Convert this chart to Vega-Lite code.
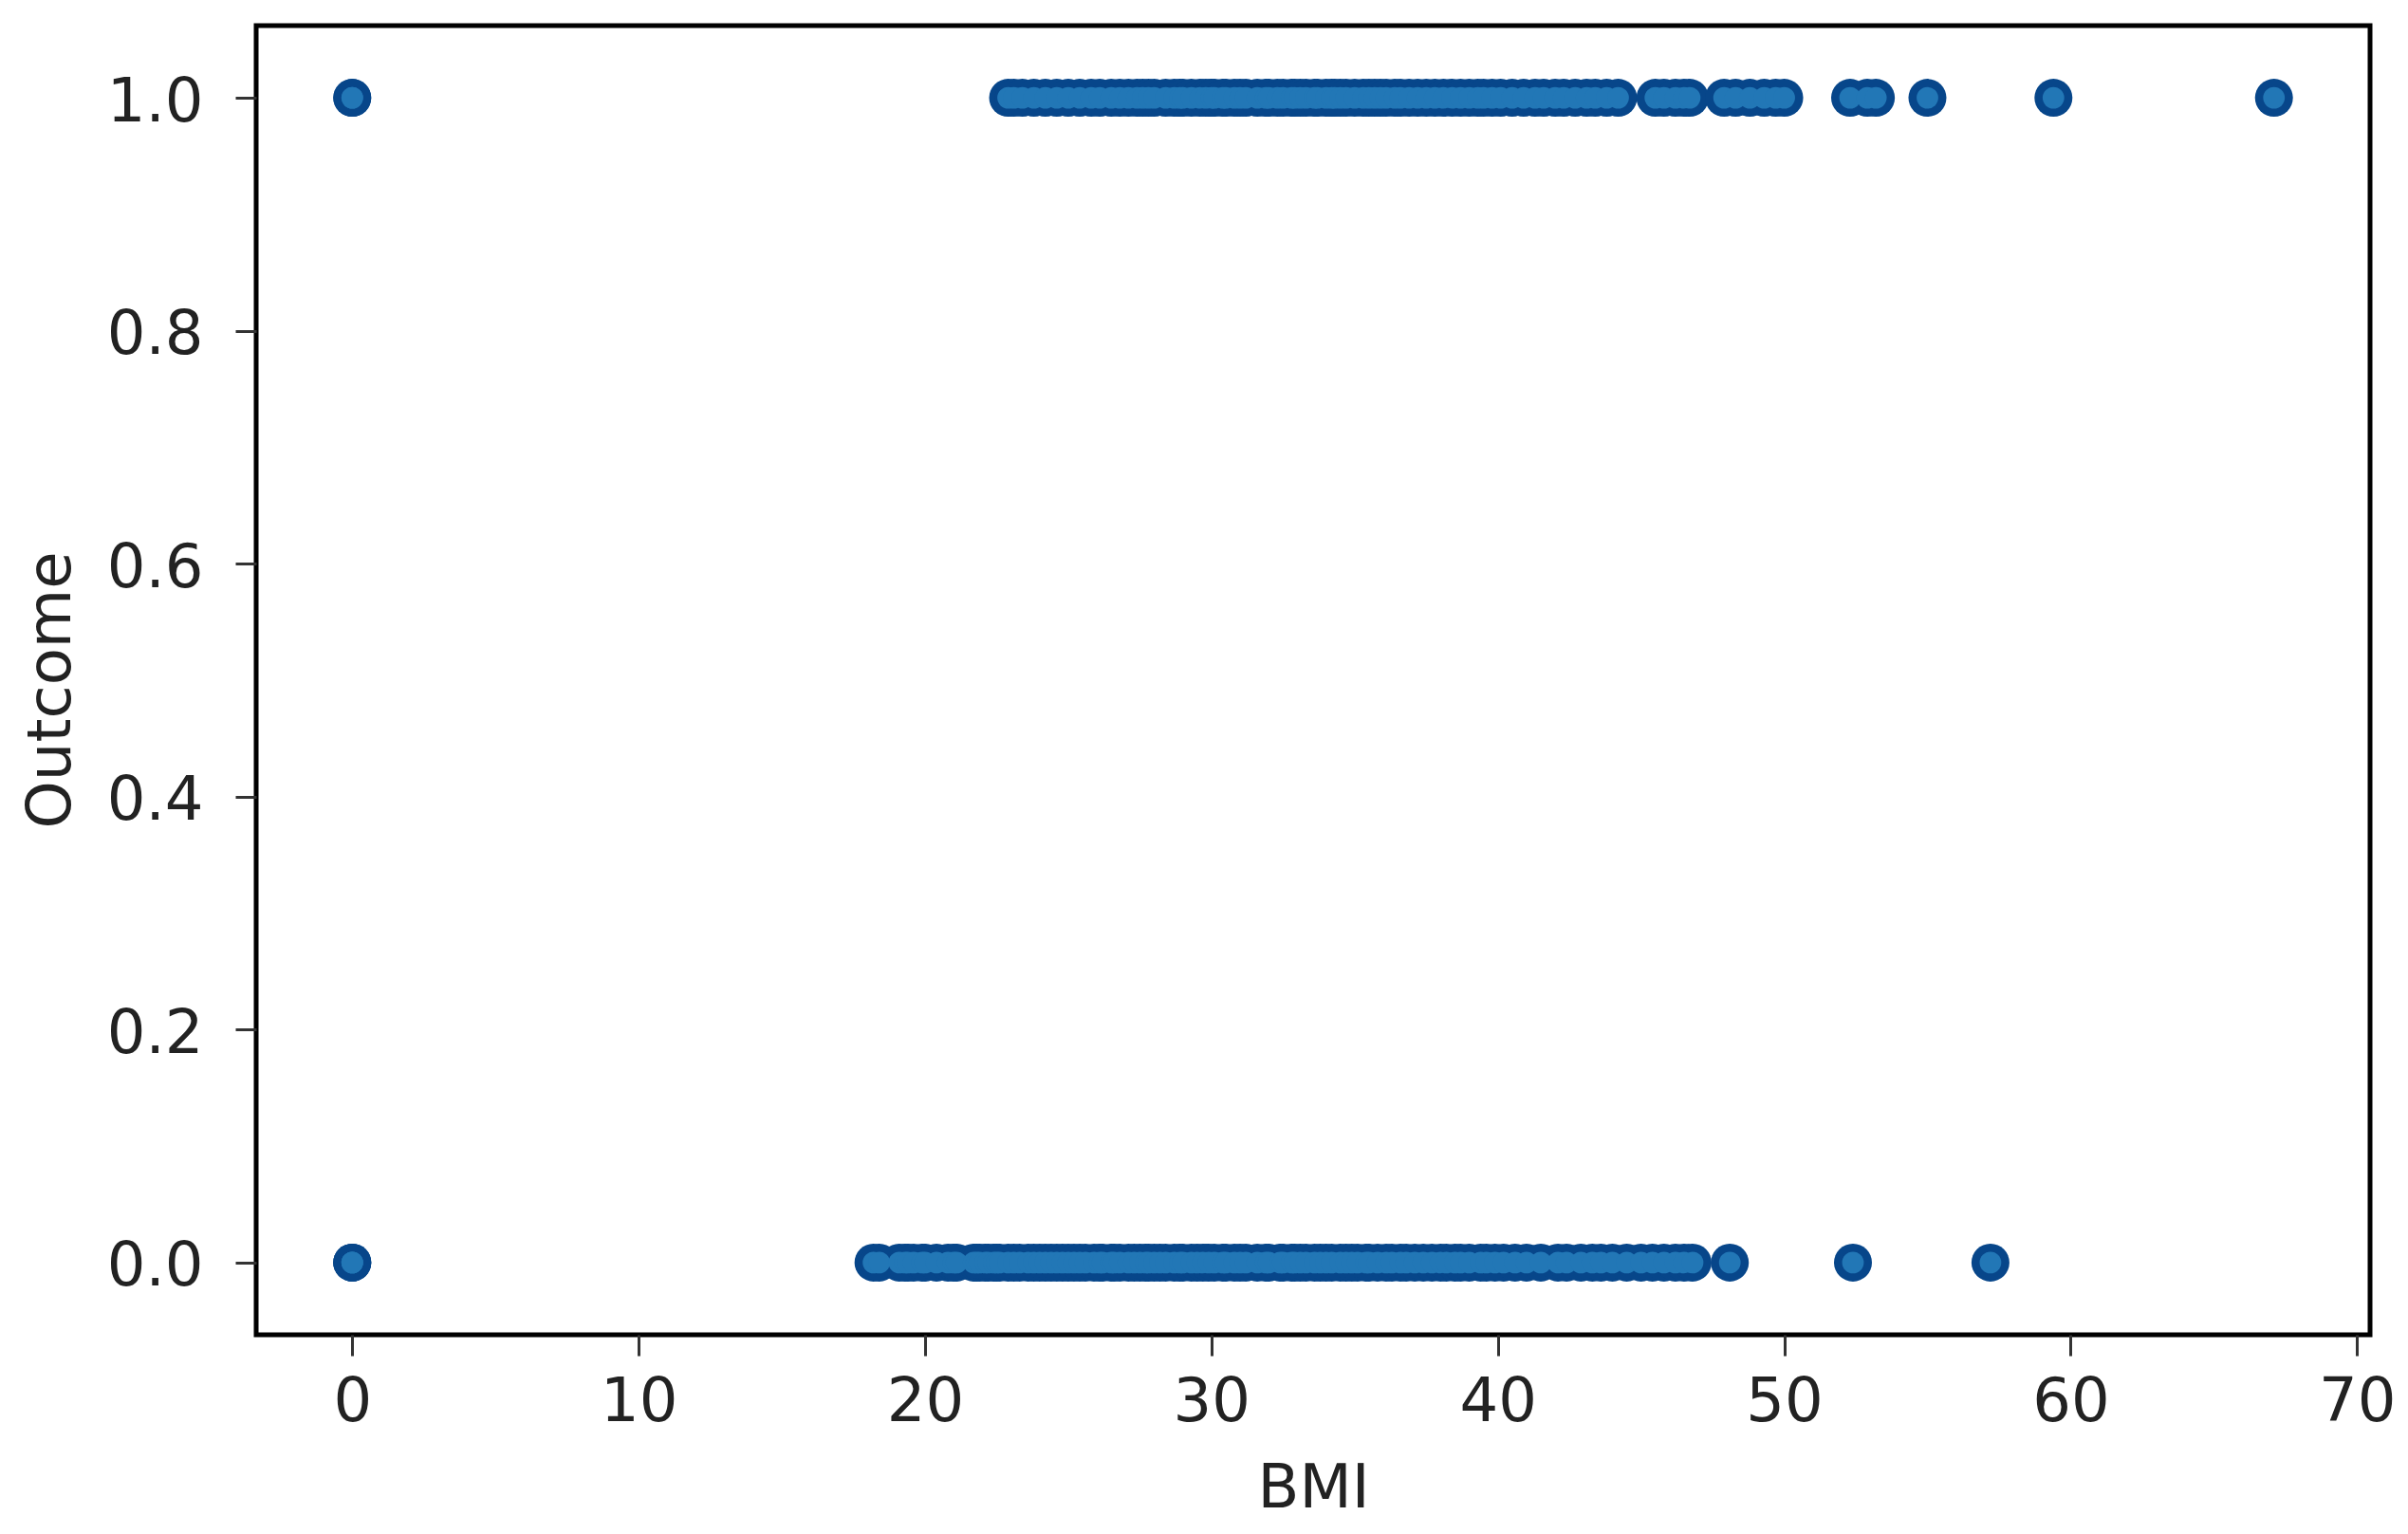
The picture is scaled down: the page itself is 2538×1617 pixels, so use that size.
{
  "$schema": "https://vega.github.io/schema/vega-lite/v6.json",
  "autosize": "none",
  "width": 2228,
  "height": 1380,
  "padding": {"left": 270, "top": 27, "right": 40, "bottom": 210},
  "background": "white",
  "config": {
    "font": "DejaVu Sans",
    "view": {"stroke": "#000000", "strokeWidth": 5},
    "axis": {
      "domain": false,
      "grid": false,
      "tickSize": 22,
      "tickWidth": 3,
      "tickColor": "#333333",
      "labelFontSize": 64,
      "labelColor": "#222222",
      "labelFlush": false,
      "labelOverlap": false,
      "titleFontSize": 64,
      "titleFontWeight": "normal",
      "titleColor": "#222222"
    }
  },
  "datasets": {
    "pima": [
      {"BMI": 0.0, "Outcome": 0}, {"BMI": 0.0, "Outcome": 0}, {"BMI": 0.0, "Outcome": 0},
      {"BMI": 18.2, "Outcome": 0}, {"BMI": 18.4, "Outcome": 0}, {"BMI": 19.1, "Outcome": 0}, {"BMI": 19.3, "Outcome": 0},
      {"BMI": 19.4, "Outcome": 0}, {"BMI": 19.6, "Outcome": 0}, {"BMI": 19.9, "Outcome": 0}, {"BMI": 20.0, "Outcome": 0},
      {"BMI": 20.4, "Outcome": 0}, {"BMI": 20.8, "Outcome": 0}, {"BMI": 21.0, "Outcome": 0}, {"BMI": 21.1, "Outcome": 0},
      {"BMI": 21.7, "Outcome": 0}, {"BMI": 21.8, "Outcome": 0}, {"BMI": 21.9, "Outcome": 0}, {"BMI": 22.1, "Outcome": 0},
      {"BMI": 22.2, "Outcome": 0}, {"BMI": 22.4, "Outcome": 0}, {"BMI": 22.5, "Outcome": 0}, {"BMI": 22.6, "Outcome": 0},
      {"BMI": 22.9, "Outcome": 0}, {"BMI": 23.1, "Outcome": 0}, {"BMI": 23.3, "Outcome": 0}, {"BMI": 23.6, "Outcome": 0},
      {"BMI": 23.8, "Outcome": 0}, {"BMI": 24.0, "Outcome": 0}, {"BMI": 24.2, "Outcome": 0}, {"BMI": 24.4, "Outcome": 0},
      {"BMI": 24.6, "Outcome": 0}, {"BMI": 24.8, "Outcome": 0}, {"BMI": 25.0, "Outcome": 0}, {"BMI": 25.2, "Outcome": 0},
      {"BMI": 25.4, "Outcome": 0}, {"BMI": 25.6, "Outcome": 0}, {"BMI": 25.9, "Outcome": 0}, {"BMI": 26.1, "Outcome": 0},
      {"BMI": 26.2, "Outcome": 0}, {"BMI": 26.5, "Outcome": 0}, {"BMI": 26.6, "Outcome": 0}, {"BMI": 26.8, "Outcome": 0},
      {"BMI": 27.1, "Outcome": 0}, {"BMI": 27.3, "Outcome": 0}, {"BMI": 27.5, "Outcome": 0}, {"BMI": 27.7, "Outcome": 0},
      {"BMI": 27.8, "Outcome": 0}, {"BMI": 28.0, "Outcome": 0}, {"BMI": 28.2, "Outcome": 0}, {"BMI": 28.4, "Outcome": 0},
      {"BMI": 28.7, "Outcome": 0}, {"BMI": 28.9, "Outcome": 0}, {"BMI": 29.0, "Outcome": 0}, {"BMI": 29.3, "Outcome": 0},
      {"BMI": 29.5, "Outcome": 0}, {"BMI": 29.7, "Outcome": 0}, {"BMI": 29.9, "Outcome": 0}, {"BMI": 30.1, "Outcome": 0},
      {"BMI": 30.4, "Outcome": 0}, {"BMI": 30.5, "Outcome": 0}, {"BMI": 30.8, "Outcome": 0}, {"BMI": 31.0, "Outcome": 0},
      {"BMI": 31.2, "Outcome": 0}, {"BMI": 31.6, "Outcome": 0}, {"BMI": 31.9, "Outcome": 0}, {"BMI": 32.0, "Outcome": 0},
      {"BMI": 32.4, "Outcome": 0}, {"BMI": 32.5, "Outcome": 0}, {"BMI": 32.8, "Outcome": 0}, {"BMI": 32.9, "Outcome": 0},
      {"BMI": 33.1, "Outcome": 0}, {"BMI": 33.3, "Outcome": 0}, {"BMI": 33.6, "Outcome": 0}, {"BMI": 33.8, "Outcome": 0},
      {"BMI": 34.0, "Outcome": 0}, {"BMI": 34.2, "Outcome": 0}, {"BMI": 34.5, "Outcome": 0}, {"BMI": 34.7, "Outcome": 0},
      {"BMI": 34.9, "Outcome": 0}, {"BMI": 35.1, "Outcome": 0}, {"BMI": 35.4, "Outcome": 0}, {"BMI": 35.5, "Outcome": 0},
      {"BMI": 35.8, "Outcome": 0}, {"BMI": 36.1, "Outcome": 0}, {"BMI": 36.3, "Outcome": 0}, {"BMI": 36.6, "Outcome": 0},
      {"BMI": 36.8, "Outcome": 0}, {"BMI": 37.1, "Outcome": 0}, {"BMI": 37.4, "Outcome": 0}, {"BMI": 37.7, "Outcome": 0},
      {"BMI": 38.0, "Outcome": 0}, {"BMI": 38.2, "Outcome": 0}, {"BMI": 38.5, "Outcome": 0}, {"BMI": 38.7, "Outcome": 0},
      {"BMI": 39.0, "Outcome": 0}, {"BMI": 39.4, "Outcome": 0}, {"BMI": 39.6, "Outcome": 0}, {"BMI": 39.9, "Outcome": 0},
      {"BMI": 40.2, "Outcome": 0}, {"BMI": 40.6, "Outcome": 0}, {"BMI": 41.0, "Outcome": 0}, {"BMI": 41.5, "Outcome": 0},
      {"BMI": 42.1, "Outcome": 0}, {"BMI": 42.4, "Outcome": 0}, {"BMI": 42.9, "Outcome": 0}, {"BMI": 43.3, "Outcome": 0},
      {"BMI": 43.6, "Outcome": 0}, {"BMI": 44.0, "Outcome": 0}, {"BMI": 44.5, "Outcome": 0}, {"BMI": 45.0, "Outcome": 0},
      {"BMI": 45.4, "Outcome": 0}, {"BMI": 45.8, "Outcome": 0}, {"BMI": 46.2, "Outcome": 0}, {"BMI": 46.5, "Outcome": 0},
      {"BMI": 46.8, "Outcome": 0}, {"BMI": 48.1, "Outcome": 0}, {"BMI": 52.4, "Outcome": 0}, {"BMI": 57.2, "Outcome": 0},
      {"BMI": 0.0, "Outcome": 1}, {"BMI": 0.0, "Outcome": 1},
      {"BMI": 22.9, "Outcome": 1}, {"BMI": 23.1, "Outcome": 1}, {"BMI": 23.4, "Outcome": 1}, {"BMI": 23.8, "Outcome": 1},
      {"BMI": 24.2, "Outcome": 1}, {"BMI": 24.6, "Outcome": 1}, {"BMI": 25.0, "Outcome": 1}, {"BMI": 25.4, "Outcome": 1},
      {"BMI": 25.8, "Outcome": 1}, {"BMI": 26.1, "Outcome": 1}, {"BMI": 26.5, "Outcome": 1}, {"BMI": 26.8, "Outcome": 1},
      {"BMI": 27.1, "Outcome": 1}, {"BMI": 27.4, "Outcome": 1}, {"BMI": 27.6, "Outcome": 1}, {"BMI": 27.8, "Outcome": 1},
      {"BMI": 28.0, "Outcome": 1}, {"BMI": 28.4, "Outcome": 1}, {"BMI": 28.7, "Outcome": 1}, {"BMI": 28.9, "Outcome": 1},
      {"BMI": 29.0, "Outcome": 1}, {"BMI": 29.3, "Outcome": 1}, {"BMI": 29.6, "Outcome": 1}, {"BMI": 29.8, "Outcome": 1},
      {"BMI": 30.0, "Outcome": 1}, {"BMI": 30.1, "Outcome": 1}, {"BMI": 30.4, "Outcome": 1}, {"BMI": 30.5, "Outcome": 1},
      {"BMI": 30.8, "Outcome": 1}, {"BMI": 31.0, "Outcome": 1}, {"BMI": 31.2, "Outcome": 1}, {"BMI": 31.6, "Outcome": 1},
      {"BMI": 31.9, "Outcome": 1}, {"BMI": 32.0, "Outcome": 1}, {"BMI": 32.3, "Outcome": 1}, {"BMI": 32.5, "Outcome": 1},
      {"BMI": 32.8, "Outcome": 1}, {"BMI": 32.9, "Outcome": 1}, {"BMI": 33.1, "Outcome": 1}, {"BMI": 33.3, "Outcome": 1},
      {"BMI": 33.6, "Outcome": 1}, {"BMI": 33.7, "Outcome": 1}, {"BMI": 34.0, "Outcome": 1}, {"BMI": 34.2, "Outcome": 1},
      {"BMI": 34.3, "Outcome": 1}, {"BMI": 34.5, "Outcome": 1}, {"BMI": 34.7, "Outcome": 1}, {"BMI": 35.0, "Outcome": 1},
      {"BMI": 35.3, "Outcome": 1}, {"BMI": 35.5, "Outcome": 1}, {"BMI": 35.7, "Outcome": 1}, {"BMI": 35.9, "Outcome": 1},
      {"BMI": 36.1, "Outcome": 1}, {"BMI": 36.4, "Outcome": 1}, {"BMI": 36.6, "Outcome": 1}, {"BMI": 36.9, "Outcome": 1},
      {"BMI": 37.2, "Outcome": 1}, {"BMI": 37.5, "Outcome": 1}, {"BMI": 37.8, "Outcome": 1}, {"BMI": 38.1, "Outcome": 1},
      {"BMI": 38.4, "Outcome": 1}, {"BMI": 38.7, "Outcome": 1}, {"BMI": 39.0, "Outcome": 1}, {"BMI": 39.3, "Outcome": 1},
      {"BMI": 39.5, "Outcome": 1}, {"BMI": 39.8, "Outcome": 1}, {"BMI": 40.1, "Outcome": 1}, {"BMI": 40.5, "Outcome": 1},
      {"BMI": 40.9, "Outcome": 1}, {"BMI": 41.3, "Outcome": 1}, {"BMI": 41.6, "Outcome": 1}, {"BMI": 42.0, "Outcome": 1},
      {"BMI": 42.3, "Outcome": 1}, {"BMI": 42.7, "Outcome": 1}, {"BMI": 43.1, "Outcome": 1}, {"BMI": 43.4, "Outcome": 1},
      {"BMI": 43.8, "Outcome": 1}, {"BMI": 44.2, "Outcome": 1}, {"BMI": 45.5, "Outcome": 1}, {"BMI": 45.8, "Outcome": 1},
      {"BMI": 46.2, "Outcome": 1}, {"BMI": 46.5, "Outcome": 1}, {"BMI": 46.7, "Outcome": 1}, {"BMI": 47.9, "Outcome": 1},
      {"BMI": 48.3, "Outcome": 1}, {"BMI": 48.8, "Outcome": 1}, {"BMI": 49.3, "Outcome": 1}, {"BMI": 49.7, "Outcome": 1},
      {"BMI": 50.0, "Outcome": 1}, {"BMI": 52.3, "Outcome": 1}, {"BMI": 52.9, "Outcome": 1}, {"BMI": 53.2, "Outcome": 1},
      {"BMI": 55.0, "Outcome": 1}, {"BMI": 59.4, "Outcome": 1}, {"BMI": 67.1, "Outcome": 1}
    ]
  },
  "data": {"name": "pima"},
  "encoding": {
    "x": {
      "field": "BMI",
      "type": "quantitative",
      "scale": {"domain": [-3.355, 70.455], "nice": false, "zero": false},
      "axis": {
        "values": [0, 10, 20, 30, 40, 50, 60, 70],
        "format": "d",
        "labelPadding": 17,
        "title": "BMI",
        "titleY": 181,
        "titleBaseline": "alphabetic"
      }
    },
    "y": {
      "field": "Outcome",
      "type": "quantitative",
      "scale": {"domain": [-0.062, 1.062], "nice": false, "zero": false},
      "axis": {
        "values": [0, 0.2, 0.4, 0.6, 0.8, 1.0],
        "format": ".1f",
        "labelPadding": 34,
        "labelOffset": 5,
        "title": "Outcome",
        "titleAngle": -90,
        "titleX": -197,
        "titleY": 700,
        "titleAlign": "center",
        "titleBaseline": "alphabetic"
      }
    }
  },
  "layer": [
    {
      "mark": {"type": "circle", "size": 1600, "fill": "#07468a", "opacity": 1, "strokeWidth": 0}
    },
    {
      "mark": {"type": "circle", "size": 520, "fill": "#2277b6", "opacity": 1, "strokeWidth": 0}
    }
  ]
}
